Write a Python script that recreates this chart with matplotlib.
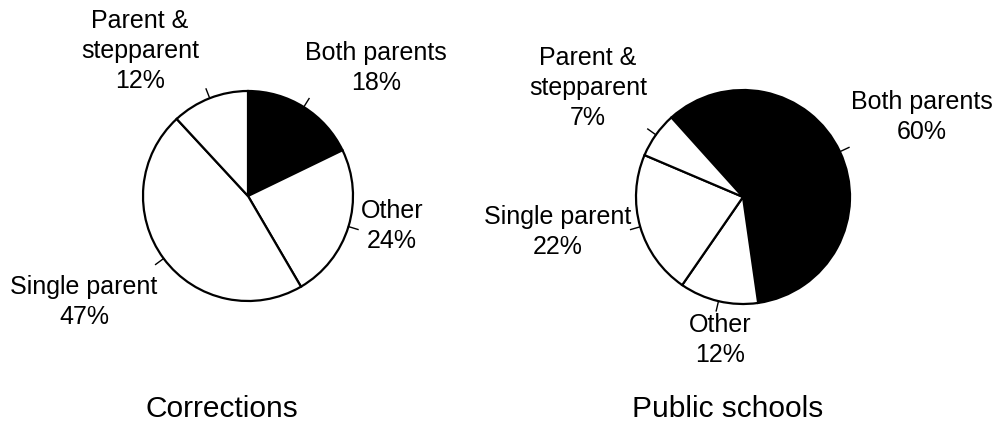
import numpy as np
import matplotlib
matplotlib.use('Agg')
import matplotlib.pyplot as plt

# data
categories = ['Both parents', 'Other', 'Single parent', 'Parent &\nstepparent']
corrections = [18, 24, 47, 12]
public_schools = [60, 12, 22, 7]
colors = ['black', 'white', 'white', 'white']

plt.rcParams['font.family'] = ['Liberation Sans', 'DejaVu Sans']

W, H = 997, 425
fig = plt.figure(figsize=(W / 100, H / 100), dpi=100)
ax = fig.add_axes([0, 0, 1, 1])

# layout (pixel coords, y from top)
pies = [
    dict(values=corrections, title='Corrections', center=(248, 196), r=105, start=90,
         title_xy=(222, 409),
         label_xy=[(376, 68), (392, 226), (84, 302), (140, 51)]),
    dict(values=public_schools, title='Public schools', center=(743, 197), r=107, start=132,
         title_xy=(728, 409),
         label_xy=[(922, 117), (720, 340), (558, 232), (588, 88)]),
]

for p in pies:
    cx, cy = p['center'][0], H - p['center'][1]
    wedges, _ = ax.pie(p['values'], colors=colors, startangle=p['start'], counterclock=False,
                       center=(cx, cy), radius=p['r'],
                       wedgeprops=dict(edgecolor='black', linewidth=1.6), frame=True)
    # small tick marks at mid-angle of every wedge
    for w in wedges:
        a = np.deg2rad((w.theta1 + w.theta2) / 2)
        r0, r1 = p['r'], p['r'] + 10
        ax.plot([cx + r0 * np.cos(a), cx + r1 * np.cos(a)],
                [cy + r0 * np.sin(a), cy + r1 * np.sin(a)], color='black', lw=1)
    for cat, v, (lx, ly) in zip(categories, p['values'], p['label_xy']):
        ax.text(lx, H - ly, f'{cat}\n{v}%', ha='center', va='center', fontsize=18,
                linespacing=1.3)
    ax.text(p['title_xy'][0], H - p['title_xy'][1], p['title'], ha='center', va='center',
            fontsize=21.5)

ax.set_xlim(0, W)
ax.set_ylim(0, H)
ax.set_aspect('equal')
ax.axis('off')

fig.savefig('out.png', dpi=100)
